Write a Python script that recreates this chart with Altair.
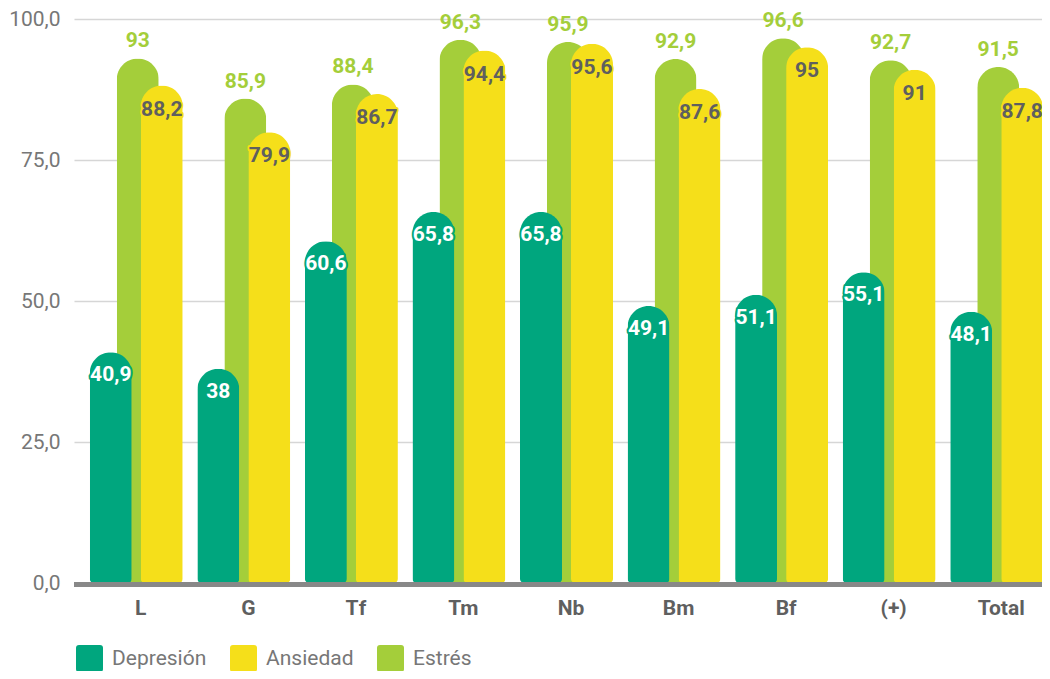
import altair as alt
import pandas as pd

categories = ["L", "G", "Tf", "Tm", "Nb", "Bm", "Bf", "(+)", "Total"]
depresion = [40.9, 38, 60.6, 65.8, 65.8, 49.1, 51.1, 55.1, 48.1]
ansiedad = [88.2, 79.9, 86.7, 94.4, 95.6, 87.6, 95, 91, 87.8]
estres = [93, 85.9, 88.4, 96.3, 95.9, 92.9, 96.6, 92.7, 91.5]
series = ["Depresión", "Ansiedad", "Estrés"]
colors = ["#00A67E", "#F5DF1A", "#A4CE3A"]
y_ticks = [0, 25, 50, 75, 100]


def fmt(v):
    return f"{v:g}".replace(".", ",")


rows = []
for s, vals in zip(series, [depresion, ansiedad, estres]):
    for c, v in zip(categories, vals):
        rows.append({"cat": c, "serie": s, "value": v, "label": fmt(v)})
df = pd.DataFrame(rows)

W, H = 968, 564
FONT = "Roboto"
FS = 21

x = alt.X(
    "cat:N", sort=categories,
    scale=alt.Scale(type="band", paddingInner=0, paddingOuter=0, round=False),
    axis=alt.Axis(title=None, domain=False, ticks=False, grid=False, labelAngle=0,
                  labelFont=FONT, labelFontSize=FS, labelFontWeight="bold",
                  labelColor="#5f5f5f", labelPadding=14, labelOffset=13),
)
y = alt.Y(
    "value:Q",
    scale=alt.Scale(domain=[0, 100], nice=False),
    axis=alt.Axis(title=None, values=y_ticks, domain=False, ticks=False,
                  labelExpr="replace(format(datum.value, '.1f'), '.', ',')",
                  gridColor="#d6d6d6", gridWidth=1.5,
                  labelFont=FONT, labelFontSize=FS, labelColor="#777777",
                  labelPadding=14),
)

rounded_square = ("M-0.78,-1 L0.78,-1 Q1,-1 1,-0.78 L1,0.78 Q1,1 0.78,1 "
                  "L-0.78,1 Q-1,1 -1,0.78 L-1,-0.78 Q-1,-1 -0.78,-1 Z")

color = alt.Color(
    "serie:N",
    scale=alt.Scale(domain=series, range=colors),
    legend=alt.Legend(title=None, orient="none", legendX=2, legendY=626,
                      direction="horizontal", symbolType=rounded_square,
                      symbolSize=729, symbolStrokeWidth=0, symbolOpacity=1,
                      labelFont=FONT, labelFontSize=FS, labelColor="#777777",
                      labelOffset=9, columnPadding=23, padding=0),
)

offsets = {"Depresión": -17, "Ansiedad": 34, "Estrés": 10}


def bars(s):
    return alt.Chart(df).transform_filter(alt.datum.serie == s).mark_bar(
        size=42, xOffset=offsets[s],
        cornerRadiusTopLeft=21, cornerRadiusTopRight=21,
        cornerRadiusBottomLeft=4, cornerRadiusBottomRight=4,
    ).encode(x=x, y=y, color=color)


def labels(s, dy, fill, halo=None):
    kw = dict(dy=dy, xOffset=offsets[s], font=FONT, fontSize=FS,
              fontWeight="bold", baseline="middle", align="center")
    layers = []
    if halo:
        layers.append(alt.Chart(df).transform_filter(alt.datum.serie == s).mark_text(
            color=halo, stroke=halo, strokeWidth=4, strokeJoin="round", **kw
        ).encode(x=x, y=y, text="label:N"))
    layers.append(alt.Chart(df).transform_filter(alt.datum.serie == s).mark_text(
        color=fill, **kw
    ).encode(x=x, y=y, text="label:N"))
    return layers


baseline = alt.Chart(pd.DataFrame({"v": [0]})).mark_rule(
    color="#888888", strokeWidth=5, yOffset=1.5
).encode(x=alt.value(0), x2=alt.value(W), y=alt.datum(0))

chart = alt.layer(
    bars("Estrés"), bars("Ansiedad"), bars("Depresión"),
    *labels("Estrés", -17, "#A4CE3A"),
    *labels("Ansiedad", 24, "#5f5f5f", "#F5DF1A"),
    *labels("Depresión", 23, "#ffffff", "#00A67E"),
    baseline,
).properties(
    width=W, height=H,
    padding={"left": 66, "top": 11, "right": 0, "bottom": 88},
    autosize=alt.AutoSizeParams(type="none"),
).configure_view(stroke=None)

chart.save("out.html", embed_options={"renderer": "svg", "actions": False})
